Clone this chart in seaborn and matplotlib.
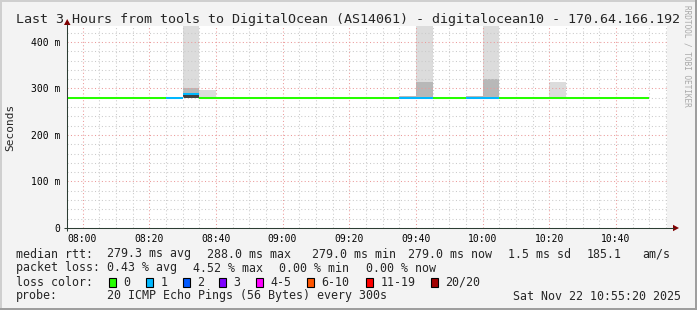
import matplotlib
matplotlib.use("Agg")
import matplotlib.pyplot as plt
import matplotlib.dates as mdates
import matplotlib.transforms as mtransforms
from matplotlib.patches import Rectangle, Polygon
from matplotlib.lines import Line2D
from matplotlib.ticker import FixedLocator, MultipleLocator
import seaborn as sns
import pandas as pd

# ---------------- data ----------------
title = "Last 3 Hours from tools to DigitalOcean (AS14061) - digitalocean10 - 170.64.166.192"
day = "2025-11-22 "
start_clock = "07:55:20"
end_clock = "10:55:20"

bin_starts = ["07:55", "08:00", "08:05", "08:10", "08:15", "08:20", "08:25", "08:30",
              "08:35", "08:40", "08:45", "08:50", "08:55", "09:00", "09:05", "09:10",
              "09:15", "09:20", "09:25", "09:30", "09:35", "09:40", "09:45", "09:50",
              "09:55", "10:00", "10:05", "10:10", "10:15", "10:20", "10:25", "10:30",
              "10:35", "10:40", "10:45"]
median_ms = [279.3, 279.3, 279.3, 279.3, 279.3, 279.3, 279.5, 288.0,
             279.3, 279.3, 279.3, 279.3, 279.3, 279.3, 279.3, 279.3,
             279.3, 279.3, 279.3, 279.3, 279.5, 279.5, 279.3, 279.3,
             279.5, 279.5, 279.3, 279.3, 279.3, 279.3, 279.3, 279.3,
             279.3, 279.3, 279.0]
loss_pings = [0, 0, 0, 0, 0, 0, 1, 1,
              0, 0, 0, 0, 0, 0, 0, 0,
              0, 0, 0, 0, 1, 1, 0, 0,
              1, 1, 0, 0, 0, 0, 0, 0,
              0, 0, 0]
smoke_min_ms = [279.0, 279.0, 279.0, 279.0, 279.0, 279.0, 279.0, 279.0,
                279.0, 279.0, 279.0, 279.0, 279.0, 279.0, 279.0, 279.0,
                279.0, 279.0, 279.0, 279.0, 279.0, 279.0, 279.0, 279.0,
                279.0, 279.0, 279.0, 279.0, 279.0, 279.0, 279.0, 279.0,
                279.0, 279.0, 279.0]
smoke_max_ms = [280, 280, 280, 280, 280, 280, 280, 450,
                297, 280, 280, 280, 280, 280, 280, 280,
                280, 280, 280, 280, 283, 450, 280, 280,
                283, 450, 280, 280, 282, 313, 280, 280,
                280, 280, 280]
smoke_mid_ms = [279, 279, 279, 279, 279, 279, 279, 302,
                279, 279, 279, 279, 279, 279, 279, 279,
                279, 279, 279, 279, 283, 313, 279, 279,
                283, 320, 279, 279, 282, 279, 279, 279,
                279, 279, 279]
smoke_core_ms = [279, 279, 279, 279, 279, 279, 279, 291,
                 279, 279, 279, 279, 279, 279, 279, 279,
                 279, 279, 279, 279, 279, 279, 279, 279,
                 279, 279, 279, 279, 279, 279, 279, 279,
                 279, 279, 279]

x_tick_labels = ["08:00", "08:20", "08:40", "09:00", "09:20", "09:40", "10:00", "10:20", "10:40"]
y_ticks_ms = [0, 100, 200, 300, 400]
y_tick_labels = ["0", "100 m", "200 m", "300 m", "400 m"]
y_max_ms = 434.4

loss_legend = ["0", "1", "2", "3", "4-5", "6-10", "11-19", "20/20"]
loss_colors = ["#26ff00", "#00b8ff", "#0059ff", "#7e00ff", "#ff00ff", "#ff5500", "#ff0000", "#a10000"]
loss_bucket_max = [0, 1, 2, 3, 5, 10, 19, 20]

rtt_line = [("median rtt:", 16), ("279.3 ms avg", 107), ("288.0 ms max", 207), ("279.0 ms min", 312),
            ("279.0 ms now", 408), ("1.5 ms sd", 508), ("185.1", 587), ("am/s", 642)]
loss_line = [("packet loss:", 16), ("0.43 % avg", 107), ("4.52 % max", 193), ("0.00 % min", 279),
             ("0.00 % now", 366)]
probe_line = [("probe:", 16), ("20 ICMP Echo Pings (56 Bytes) every 300s", 107),
              ("Sat Nov 22 10:55:20 2025", 513)]
loss_box_x = [109, 146, 183, 219, 256, 307, 366, 431]

# ---------------- figure ----------------
W, H = 697, 310
sns.set_style("white")
plt.rcParams["font.family"] = ["DejaVu Sans Mono", "DejaVu Sans"]
plt.rcParams["lines.solid_capstyle"] = "butt"

fig = plt.figure(figsize=(W / 100, H / 100), dpi=100, facecolor="#f3f3f3")
pix = mtransforms.Affine2D().scale(1 / W, -1 / H).translate(0, 1) + fig.transFigure

ax = fig.add_axes([67 / W, 82 / H, 600 / W, 202 / H])
ax.set_facecolor("white")
for s in ax.spines.values():
    s.set_visible(False)

starts = pd.to_datetime([day + s for s in bin_starts])
start_num = mdates.date2num(starts)
end_num = mdates.date2num(starts + pd.Timedelta(minutes=5))
bw = 5 / 1440.0

df = pd.DataFrame({"t": start_num, "lo": smoke_min_ms, "hi": smoke_max_ms,
                   "mid": smoke_mid_ms, "core": smoke_core_ms})

# smoke
ax.bar(df.t, df.hi - df.lo, bottom=df.lo, width=bw, align="edge", color="#dcdcdc", lw=0, zorder=1)
ax.bar(df.t, df.mid - df.lo, bottom=df.lo, width=bw, align="edge", color="#b8b8b8", lw=0, zorder=1.1)
ax.bar(df.t, df.core - df.lo, bottom=df.lo, width=bw, align="edge", color="#404040", lw=0, zorder=1.2)


def bucket(n):
    for lab, m in zip(loss_legend, loss_bucket_max):
        if n <= m:
            return lab
    return loss_legend[-1]


n = len(bin_starts)
seg = pd.DataFrame({
    "bin": list(range(n)) * 2,
    "t": list(start_num) + list(end_num),
    "rtt": median_ms * 2,
    "loss": [bucket(l) for l in loss_pings] * 2,
})
palette = dict(zip(loss_legend, loss_colors))
sns.lineplot(data=seg, x="t", y="rtt", units="bin", estimator=None, hue="loss",
             palette=palette, legend=False, lw=1.45, ax=ax, zorder=4)

# axes scales
ax.set_xlim(mdates.date2num(pd.Timestamp(day + start_clock)),
            mdates.date2num(pd.Timestamp(day + end_clock)))
ax.set_ylim(0, y_max_ms)
ax.xaxis.set_major_locator(FixedLocator(mdates.date2num(pd.to_datetime([day + s for s in x_tick_labels]))))
ax.set_xticklabels(x_tick_labels)
ax.xaxis.set_minor_locator(mdates.MinuteLocator(byminute=range(0, 60, 5)))
ax.yaxis.set_major_locator(FixedLocator(y_ticks_ms))
ax.set_yticklabels(y_tick_labels)
ax.yaxis.set_minor_locator(MultipleLocator(20))
ax.set_xlabel("")
ax.set_ylabel("")
ax.tick_params(which="both", length=0)
ax.tick_params(axis="x", labelsize=7, pad=4, colors="black")
ax.tick_params(axis="y", labelsize=7, pad=5, colors="black")

ax.set_axisbelow(False)
ax.grid(which="minor", color="#cacaca", ls=(0, (1, 2.3)), lw=0.75, zorder=2.5)
ax.grid(which="major", color="#eb9a9a", ls=(0, (1, 2.3)), lw=0.75, zorder=2.6)

# axis lines and arrows
fig.add_artist(Line2D([67, 67], [231, 24], transform=pix, color="#2c3d33", lw=0.75))
fig.add_artist(Line2D([64, 674], [228, 228], transform=pix, color="#2c3d33", lw=0.75))
fig.add_artist(Polygon([[64, 25], [70.5, 25], [67.2, 19]], closed=True, transform=pix,
                       color="#7f0000", lw=0))
fig.add_artist(Polygon([[673, 224.8], [673, 231.2], [679, 228]], closed=True, transform=pix,
                       color="#7f0000", lw=0))

# texts
fig.text(16, 19, title, transform=pix, ha="left", va="center", fontsize=9.6)
fig.text(10, 127, "Seconds", transform=pix, ha="center", va="center", rotation=90, fontsize=8)
fig.text(687.5, 5, "RRDTOOL / TOBI OETIKER", transform=pix, ha="center", va="top",
         rotation=270, fontsize=5.6, color="#a8a8a8")

for txt, x in rtt_line:
    fig.text(x, 254, txt, transform=pix, ha="left", va="center", fontsize=8.4)
for txt, x in loss_line:
    fig.text(x, 268, txt, transform=pix, ha="left", va="center", fontsize=8.4)
fig.text(16, 282, "loss color:", transform=pix, ha="left", va="center", fontsize=8.4)
for lab, col, x in zip(loss_legend, loss_colors, loss_box_x):
    fig.add_artist(Rectangle((x, 278.3), 7, 8.4, transform=pix, facecolor=col,
                             edgecolor="black", lw=0.8))
    fig.text(x + 14.5, 282, lab, transform=pix, ha="left", va="center", fontsize=8.4)
for txt, x in probe_line:
    fig.text(x, 296, txt, transform=pix, ha="left", va="center", fontsize=8.4)

# frame shading
fig.add_artist(Rectangle((0, 0), W, 2, transform=pix, color="#cfcfcf", lw=0))
fig.add_artist(Rectangle((0, 0), 2, H, transform=pix, color="#cfcfcf", lw=0))
fig.add_artist(Rectangle((0, H - 2), W, 2, transform=pix, color="#9e9e9e", lw=0))
fig.add_artist(Rectangle((W - 2, 0), 2, H, transform=pix, color="#9e9e9e", lw=0))

fig.savefig("out.png", dpi=100, facecolor=fig.get_facecolor())
